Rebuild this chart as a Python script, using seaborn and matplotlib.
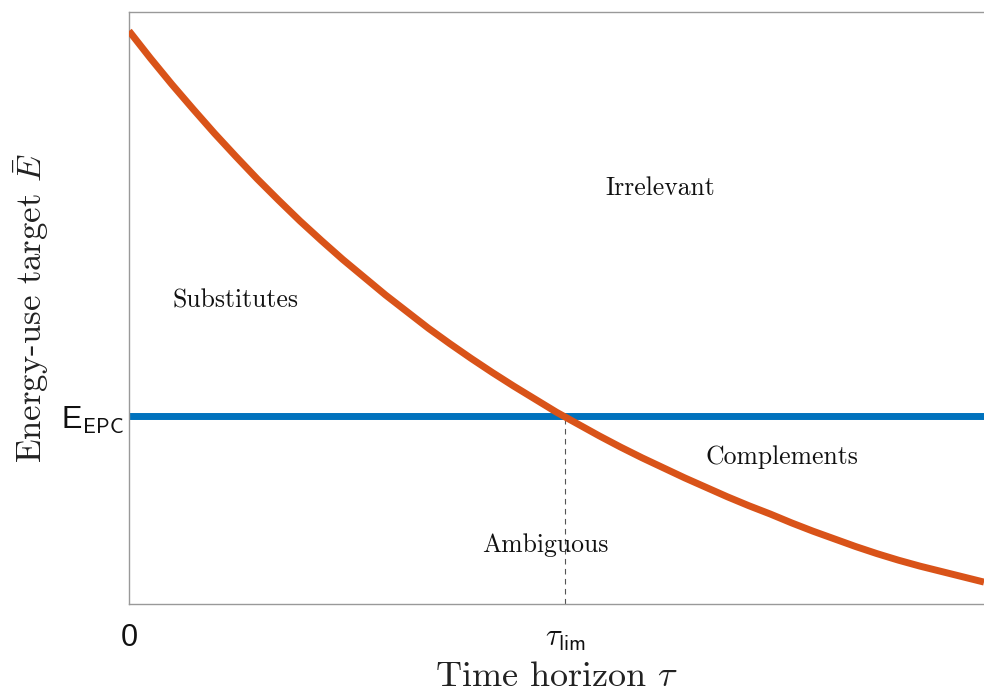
import numpy as np
import pandas as pd
import matplotlib
matplotlib.use('Agg')
import matplotlib.pyplot as plt
import seaborn as sns

# values (normalised axes: 0..1 in both directions)
tau = [0.000, 0.025, 0.050, 0.075, 0.100, 0.125, 0.150, 0.175, 0.200, 0.225,
       0.250, 0.275, 0.300, 0.325, 0.350, 0.375, 0.400, 0.425, 0.450, 0.475,
       0.500, 0.525, 0.550, 0.575, 0.600, 0.625, 0.650, 0.675, 0.700, 0.725,
       0.750, 0.775, 0.800, 0.825, 0.850, 0.875, 0.900, 0.925, 0.950, 0.975, 1.000]
e_target = [0.968, 0.922, 0.878, 0.836, 0.795, 0.756, 0.718, 0.682, 0.647, 0.614,
            0.582, 0.552, 0.522, 0.494, 0.466, 0.440, 0.415, 0.391, 0.368, 0.346,
            0.324, 0.304, 0.284, 0.265, 0.247, 0.230, 0.213, 0.197, 0.181, 0.166,
            0.152, 0.137, 0.123, 0.110, 0.097, 0.085, 0.074, 0.064, 0.055, 0.046, 0.037]
E_EPC = 0.318
TAU_LIM = 0.51
regions = ['Irrelevant', 'Substitutes', 'Complements', 'Ambiguous']

ORANGE = '#D95319'
BLUE = '#0072BD'

sns.set_theme(style='white')
plt.rcParams['font.family'] = ['Liberation Sans', 'DejaVu Sans']

df = pd.DataFrame({'tau': tau, 'E': e_target})

fig = plt.figure(figsize=(9.84, 6.98), dpi=100)
ax = fig.add_axes([129 / 984, 94 / 698, 1 - 129 / 984, 592 / 698])

# vertical dashed marker down from the crossing
ax.plot([TAU_LIM, TAU_LIM], [0, E_EPC], color='#555555', lw=0.8,
        linestyle=(0, (5, 4)), zorder=1)
ax.axhline(E_EPC, color=BLUE, lw=5, zorder=2)
sns.lineplot(data=df, x='tau', y='E', color=ORANGE, lw=5, ax=ax, zorder=3,
             solid_joinstyle='round', solid_capstyle='butt')

ax.set_xlim(0, 1)
ax.set_ylim(0, 1)

# region labels
label_pos = {'Irrelevant': (0.621, 0.703), 'Substitutes': (0.124, 0.512),
             'Complements': (0.764, 0.248), 'Ambiguous': (0.487, 0.100)}
for name in regions:
    x, y = label_pos[name]
    ax.text(x, y, name, family='cmr10', fontsize=18.5, ha='center', va='center',
            color='#111111')

ax.set_xticks([0, TAU_LIM])
ax.set_xticklabels(['0', r'$\tau_{\mathsf{lim}}$'])
ax.set_yticks([E_EPC])
ax.set_yticklabels([r'E$_{\mathsf{EPC}}$'])
for lab in ax.get_xticklabels() + ax.get_yticklabels():
    lab.set_fontsize(22)
    lab.set_math_fontfamily('cm')
    lab.set_color('#111111')
ax.tick_params(axis='x', length=0, pad=14)
ax.tick_params(axis='y', length=0, pad=4)

ax.set_xlabel(r'Time horizon $\tau$', family='cmr10', math_fontfamily='cm',
              fontsize=26, color='#222222', labelpad=6)
ax.set_ylabel(r'Energy-use target $\bar{E}$', family='cmr10', math_fontfamily='cm',
              fontsize=25, color='#222222', labelpad=7)

for side in ['left', 'top', 'bottom']:
    ax.spines[side].set_color('#999999')
    ax.spines[side].set_linewidth(1.0)
ax.spines['right'].set_visible(False)

fig.savefig('out.png', dpi=100)
